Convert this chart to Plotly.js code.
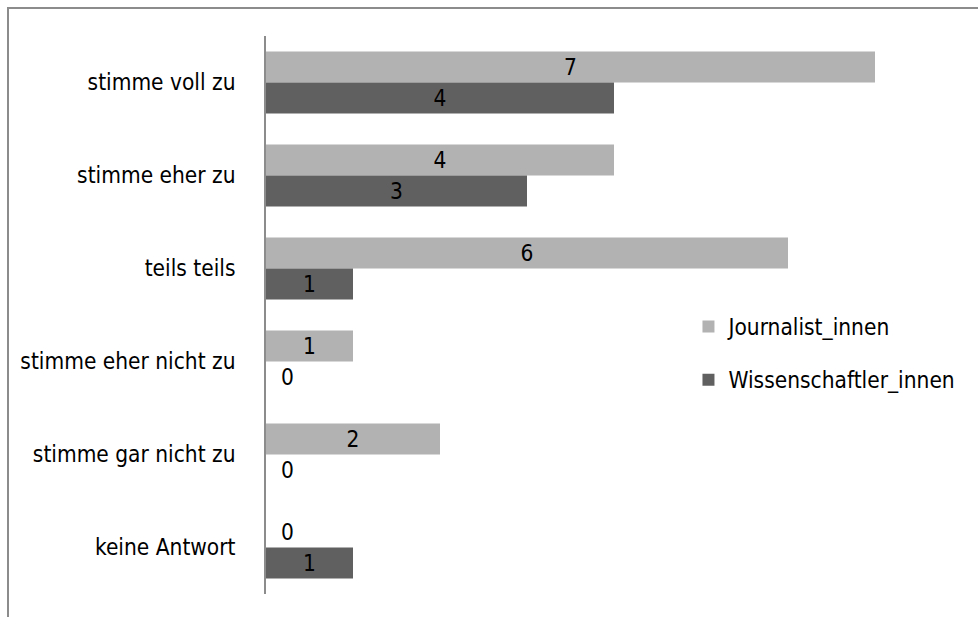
<!DOCTYPE html>
<html><head><meta charset="utf-8">
<script src="https://cdn.plot.ly/plotly-3.0.1.min.js"></script>
<style>
html,body{margin:0;padding:0;background:#fff;}
#wrap{position:relative;width:978px;height:617px;overflow:hidden;}
#frame{position:absolute;left:7px;top:7px;width:1000px;height:700px;border-top:2px solid #8c8c8c;border-left:2px solid #8c8c8c;box-sizing:border-box;pointer-events:none;}
#chart{position:absolute;left:0;top:0;width:978px;height:617px;}
</style></head>
<body><div id="wrap"><div id="chart"></div><div id="frame"></div></div>
<script>
const categories = ["stimme voll zu","stimme eher zu","teils teils","stimme eher nicht zu","stimme gar nicht zu","keine Antwort"];
const journalisten = [7,4,6,1,2,0];
const wissenschaftler = [4,3,1,0,0,1];
const seriesNames = ["Journalist_innen","Wissenschaftler_innen"];
const colors = ["#b2b2b2","#606060"];

const FONT = '"DejaVu Sans Condensed","Liberation Sans Narrow","Liberation Sans",sans-serif';
const FS = 22.5;

function mkTrace(vals, name, color, legendId){
  return {
    type:'bar', orientation:'h', y:categories, x:vals, name:name,
    marker:{color:color}, legend:legendId,
    text: vals.map(v => v===0 ? '' : String(v)),
    textposition:'inside', insidetextanchor:'middle', textangle:0, constraintext:'none',
    textfont:{family:FONT,size:FS,color:'#000'},
    cliponaxis:false, hoverinfo:'none'
  };
}
const data = [
  mkTrace(journalisten, seriesNames[0], colors[0], 'legend'),
  mkTrace(wissenschaftler, seriesNames[1], colors[1], 'legend2')
];

// zero labels
const annotations = [];
[journalisten, wissenschaftler].forEach((vals, si) => {
  vals.forEach((v, i) => {
    if (v === 0) {
      annotations.push({x:0, y:categories[i], xref:'x', yref:'y', text:'0', showarrow:false,
        xanchor:'center', xshift:21, yshift: si===0 ? 15.5 : -15.5,
        font:{family:FONT,size:FS,color:'#000'}});
    }
  });
});

const legBase = {xanchor:'left', yanchor:'middle', bgcolor:'rgba(0,0,0,0)',
  font:{family:FONT,size:FS,color:'#000'}, itemwidth:30};

const layout = {
  width:978, height:617,
  margin:{l:266, r:16, t:36, b:23, pad:0},
  paper_bgcolor:'#fff', plot_bgcolor:'#fff',
  barmode:'group', bargap:0.333, bargroupgap:0,
  font:{family:FONT,size:FS,color:'#000'},
  xaxis:{range:[0,8], showgrid:false, zeroline:false, showticklabels:false, showline:false, ticks:'', fixedrange:true},
  yaxis:{autorange:'reversed', showgrid:false, zeroline:false, showline:true, linecolor:'#8c8c8c', linewidth:2,
    ticks:'', ticklabelstandoff:24, tickfont:{family:FONT,size:FS,color:'#000'}},
  legend:Object.assign({x:0.607, y:0.4785}, legBase),
  legend2:Object.assign({x:0.607, y:0.3835}, legBase),
  showlegend:true,
  annotations:annotations
};
Plotly.newPlot('chart', data, layout, {staticPlot:true, displayModeBar:false});
</script></body></html>
